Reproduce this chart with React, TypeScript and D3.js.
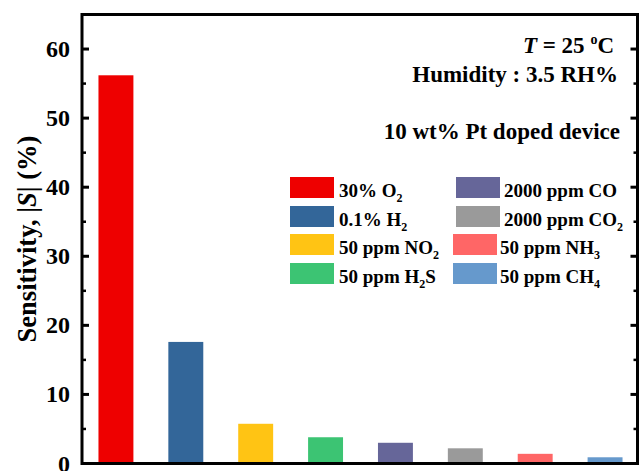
import React from "react";
import * as d3 from "d3";

// Gas species tested and the measured sensitivity |S| (%) of the device
const gases = ["O2", "H2", "NO2", "H2S", "CO", "CO2", "NH3", "CH4"];
const sensitivity = [56.2, 17.6, 5.75, 3.8, 3.0, 2.2, 1.4, 0.9];
const colors = ["#EE0000", "#336699", "#FFC414", "#3CC473", "#666699", "#9A9A9A", "#FF6666", "#6699CC"];

// Legend entries: [prefix, subscripted part, suffix]
const legendLabels: [string, string, string][] = [
  ["30% O", "2", ""],
  ["0.1% H", "2", ""],
  ["50 ppm NO", "2", ""],
  ["50 ppm H", "2", "S"],
  ["2000 ppm CO", "", ""],
  ["2000 ppm CO", "2", ""],
  ["50 ppm NH", "3", ""],
  ["50 ppm CH", "4", ""],
];

const yTicks = [0, 10, 20, 30, 40, 50, 60];
const yMinorTicks = [5, 15, 25, 35, 45, 55];

const W = 640;
const H = 471;
const FONT = "'Liberation Serif', 'Times New Roman', serif";

export default function App() {
  const left = 82;
  const right = 637.5;
  const top = 14.5;
  const bottom = 463.5;

  const x = d3.scaleBand<string>().domain(gases).range([81, 640]).padding(0);
  const y = d3.scaleLinear().domain([0, 65]).range([bottom, top]);
  const step = x.step();

  // legend layout: two columns of four rows
  const rowY = [177, 206, 234, 263];
  const swatchH = 21;
  const legendPos = [
    { sx: 290, tx: 339 },
    { sx: 290, tx: 339 },
    { sx: 290, tx: 339 },
    { sx: 290, tx: 339 },
    { sx: 456, tx: 504 },
    { sx: 456, tx: 504 },
    { sx: 453, tx: 500 },
    { sx: 453, tx: 500 },
  ];

  return (
    <svg
      width={W}
      height={H}
      style={{ position: "absolute", left: 0, top: 0, background: "#fff" }}
      fontFamily={FONT}
      fontWeight="bold"
    >
      {/* bars */}
      {gases.map((g, i) => (
        <rect
          key={g}
          x={(x(g) as number) + step * 0.25}
          y={y(sensitivity[i])}
          width={step * 0.5}
          height={y(0) - y(sensitivity[i])}
          fill={colors[i]}
        />
      ))}

      {/* ticks on left and right spines, pointing inward */}
      {yTicks.map((t) => (
        <g key={"M" + t}>
          <line x1={left} x2={left + 7} y1={y(t)} y2={y(t)} stroke="#000" strokeWidth={3} />
          <line x1={right} x2={right - 7} y1={y(t)} y2={y(t)} stroke="#000" strokeWidth={3} />
          <text x={70} y={y(t)} textAnchor="end" dominantBaseline="central" fontSize={24}>
            {t}
          </text>
        </g>
      ))}
      {yMinorTicks.map((t) => (
        <g key={"m" + t}>
          <line x1={left} x2={left + 4} y1={y(t)} y2={y(t)} stroke="#000" strokeWidth={2.5} />
          <line x1={right} x2={right - 4} y1={y(t)} y2={y(t)} stroke="#000" strokeWidth={2.5} />
        </g>
      ))}

      {/* frame */}
      <rect
        x={left}
        y={top}
        width={right - left}
        height={bottom - top}
        fill="none"
        stroke="#000"
        strokeWidth={3}
      />

      {/* y axis title */}
      <text
        transform={`translate(36, ${(top + bottom) / 2}) rotate(-90)`}
        textAnchor="middle"
        fontSize={26.5}
      >
        Sensitivity, |<tspan fontStyle="italic">S</tspan>| (%)
      </text>

      {/* annotations */}
      <text x={614} y={53} textAnchor="end" fontSize={23}>
        <tspan fontStyle="italic">T</tspan> = 25 <tspan fontSize={14} dy={-9}>o</tspan>
        <tspan dy={9}>C</tspan>
      </text>
      <text x={618} y={82} textAnchor="end" fontSize={23}>
        Humidity : 3.5 RH%
      </text>
      <text x={620} y={139} textAnchor="end" fontSize={23}>
        10 wt% Pt doped device
      </text>

      {/* legend */}
      {legendLabels.map((lab, i) => {
        const ry = rowY[i % 4];
        const p = legendPos[i];
        return (
          <g key={"L" + i}>
            <rect x={p.sx} y={ry} width={44} height={swatchH} fill={colors[i]} />
            <text x={p.tx} y={ry + swatchH - 1} fontSize={19}>
              {lab[0]}
              {lab[1] && (
                <tspan fontSize={12} dy={5}>
                  {lab[1]}
                </tspan>
              )}
              {lab[2] && <tspan dy={-5}>{lab[2]}</tspan>}
            </text>
          </g>
        );
      })}
    </svg>
  );
}
